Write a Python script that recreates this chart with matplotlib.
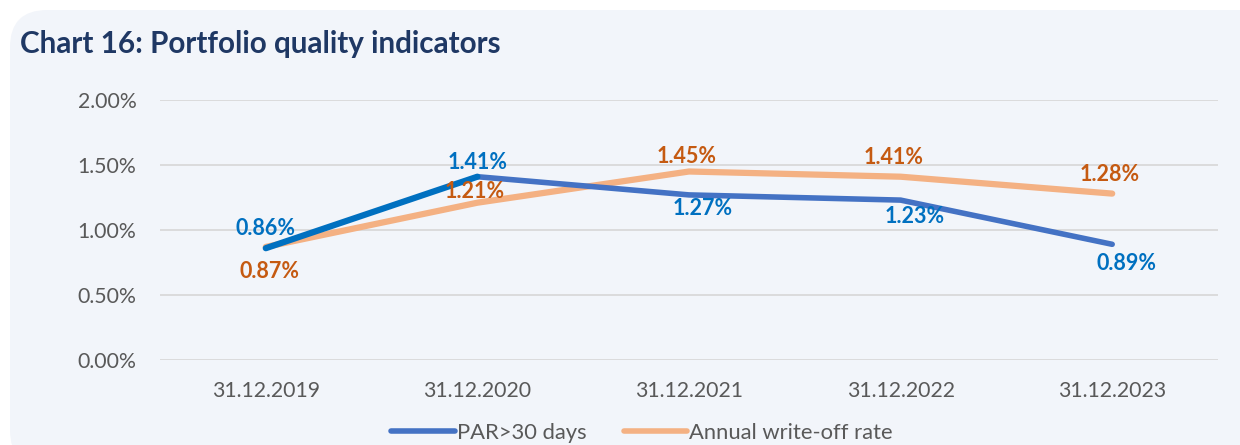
import matplotlib
matplotlib.use("Agg")
import matplotlib.pyplot as plt
from matplotlib.patches import FancyBboxPatch
from matplotlib.lines import Line2D

categories = ["31.12.2019", "31.12.2020", "31.12.2021", "31.12.2022", "31.12.2023"]
par30 = [0.86, 1.41, 1.27, 1.23, 0.89]
writeoff = [0.87, 1.21, 1.45, 1.41, 1.28]
yticks = [0.0, 0.5, 1.0, 1.5, 2.0]

BG = "#F2F5FA"
BLUE = "#4472C4"
BLUE_DARK = "#0070C0"
ORANGE = "#F4B183"
ORANGE_TXT = "#C55A11"
FONT = ["Lato", "DejaVu Sans"]

fig = plt.figure(figsize=(12.4, 4.45), dpi=100)
fig.patch.set_facecolor("white")
panel = FancyBboxPatch((10 / 1240, -0.05), 1.2, 1 - 10 / 445 + 0.05,
                       boxstyle="round,pad=0,rounding_size=0.03",
                       transform=fig.transFigure, facecolor=BG, edgecolor="none",
                       mutation_aspect=1240 / 445, zorder=-10)
fig.patches.append(panel)

fig.text(20 / 1240, 1 - 44 / 445, "Chart 16: Portfolio quality indicators",
         fontsize=21.3, fontweight="bold", color="#1F3864", family=FONT, va="center", ha="left")

ax = fig.add_axes([160 / 1240, 1 - 360 / 445, (1218 - 160) / 1240, 260 / 445])
ax.set_facecolor(BG)
ax.patch.set_alpha(0)
x = list(range(len(categories)))
ax.set_xlim(-0.5, len(categories) - 0.5)
ax.set_ylim(0, 2.0)
ax.set_yticks(yticks)
ax.set_yticklabels([f"{v:.2f}%" for v in yticks])
ax.set_xticks(x)
ax.set_xticklabels(categories)
for s in ax.spines.values():
    s.set_visible(False)
ax.grid(axis="y", color="#D9D9D9", linewidth=1.3)
ax.set_axisbelow(True)
ax.tick_params(length=0, labelsize=15.3, labelcolor="#595959")
ax.tick_params(axis="x", pad=15)
ax.tick_params(axis="y", pad=17)
for lab in ax.get_xticklabels() + ax.get_yticklabels():
    lab.set_family(FONT)

ax.plot(x, writeoff, color=ORANGE, linewidth=4.5, solid_capstyle="round", zorder=3)
ax.plot(x[1:], par30[1:], color=BLUE, linewidth=4, solid_capstyle="round", zorder=4)
ax.plot(x[:2], par30[:2], color=BLUE_DARK, linewidth=4.5, solid_capstyle="round", zorder=4)

par_off = [(0, 14), (0, 10), (10, -10), (10, -12), (10, -14)]
wo_off = [(3, -18), (-2, 8), (-2, 11), (-5, 14), (-2, 14)]
for i in x:
    ax.annotate(f"{par30[i]:.2f}%", (x[i], par30[i]), xytext=par_off[i], textcoords="offset points",
                ha="center", va="center", fontsize=15.5, fontweight="bold", color=BLUE_DARK, family=FONT, zorder=5)
    ax.annotate(f"{writeoff[i]:.2f}%", (x[i], writeoff[i]), xytext=wo_off[i], textcoords="offset points",
                ha="center", va="center", fontsize=15.5, fontweight="bold", color=ORANGE_TXT, family=FONT, zorder=5)

handles = [Line2D([], [], color=BLUE, linewidth=4, solid_capstyle="round"),
           Line2D([], [], color=ORANGE, linewidth=4, solid_capstyle="round")]
leg = fig.legend(handles, ["PAR>30 days", "Annual write-off rate"], loc="center",
                 bbox_to_anchor=(642 / 1240, 1 - 433 / 445), ncol=2, frameon=False,
                 prop={"family": FONT, "size": 15.8}, handlelength=2.9, handletextpad=0.1, columnspacing=1.7)
for t in leg.get_texts():
    t.set_color("#595959")

fig.savefig("out.png", dpi=100, facecolor="white")
